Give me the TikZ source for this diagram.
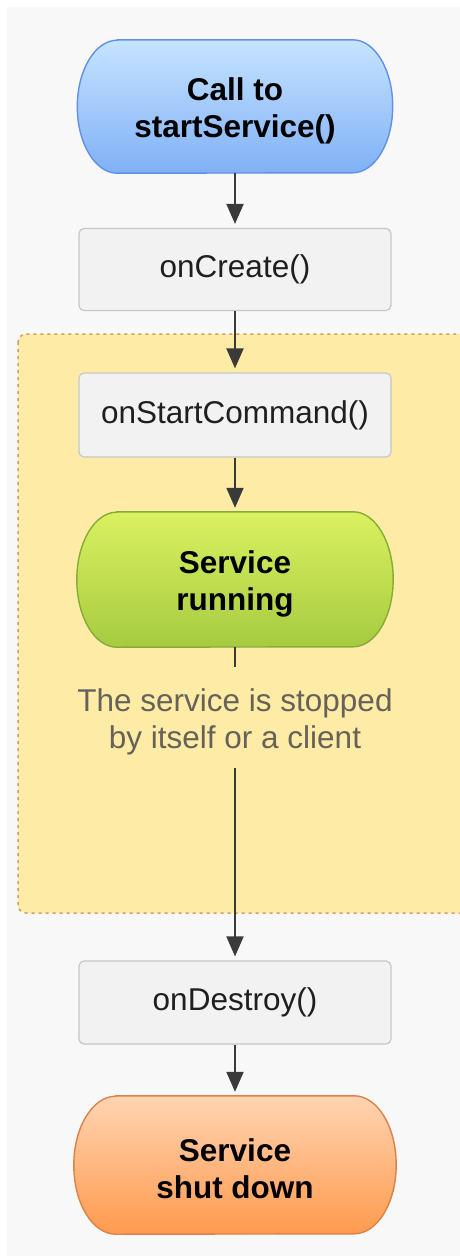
\documentclass[tikz,border=0pt]{standalone}
\usepackage{fontspec}
\setmainfont{Liberation Sans}
\usetikzlibrary{arrows.meta,calc}
\definecolor{pagebg}{HTML}{F8F8F8}
\definecolor{regionfill}{HTML}{FEECA6}
\definecolor{regionline}{HTML}{D49E62}
\definecolor{boxfill}{HTML}{F2F2F2}
\definecolor{boxline}{HTML}{C6C6C6}
\definecolor{arrowc}{HTML}{3A3A3A}
\definecolor{notec}{HTML}{66625A}
\definecolor{bluetop}{HTML}{C6E4FF}
\definecolor{bluebot}{HTML}{80B0F6}
\definecolor{blueline}{HTML}{6090E8}
\definecolor{greentop}{HTML}{DAF160}
\definecolor{greenbot}{HTML}{A6CB40}
\definecolor{greenline}{HTML}{86AC36}
\definecolor{orangetop}{HTML}{FFD4B2}
\definecolor{orangebot}{HTML}{FF9A4E}
\definecolor{orangeline}{HTML}{DA8248}
\pgfdeclarelayer{back}
\pgfdeclarelayer{shapes}
\pgfsetlayers{back,shapes,main}
\newcommand{\drawpill}[4]{%
  \path[#2] ($(#1.north west)+(#3,0)$) -- ($(#1.north east)+(-#3,0)$)
    arc[start angle=90,end angle=-90,x radius=#3,y radius=#4]
    -- ($(#1.south west)+(#3,0)$)
    arc[start angle=270,end angle=90,x radius=#3,y radius=#4] -- cycle;}
\newcommand{\pup}{\rule{0pt}{31pt}}
\tikzset{
  fnt/.style={font=\fontsize{31.5}{37}\selectfont},
  box/.style={fnt, draw=boxline, fill=boxfill, line width=1.2pt, rounded corners=5pt,
    minimum width=312, minimum height=82, text=black!88},
  pillnode/.style={font=\fontsize{31.5}{37}\selectfont\bfseries, align=center, text=black,
    inner sep=0pt},
  bluepill/.style={draw=blueline, line width=1.4pt, top color=bluetop, bottom color=bluebot},
  greenpill/.style={draw=greenline, line width=1.4pt, top color=greentop, bottom color=greenbot},
  orangepill/.style={draw=orangeline, line width=1.4pt, top color=orangetop, bottom color=orangebot},
  arr/.style={draw=arrowc, line width=2pt, -{Triangle[length=20pt,width=17pt]}, shorten >=4pt},
  plainline/.style={draw=arrowc, line width=2pt},
  note/.style={fnt, align=center, text=notec, inner sep=0pt},
  region/.style={draw=regionline, fill=regionfill, line width=1.5pt,
    dash pattern=on 3pt off 4pt, rounded corners=8pt}
}
\begin{document}
\begin{tikzpicture}[x=1pt,y=1pt]
\useasboundingbox (0,0) rectangle (459,-1258);
\clip (0,0) rectangle (459,-1258);
\begin{pgfonlayer}{back}
  \fill[white] (0,0) rectangle (459,-1258);
  \fill[pagebg] (7,-7) rectangle (470,-1256);
  \draw[region] (18,-334) rectangle (490,-913);
\end{pgfonlayer}

\node[pillnode, minimum width=315, minimum height=133] (call) at (235,-106.5) {\pup Call to\\startService()};
\node[box] (create) at (235,-269.5) {onCreate()};
\node[box, minimum height=84] (start) at (235,-415) {onStartCommand()};
\node[pillnode, minimum width=316, minimum height=135] (run) at (235,-579.5) {\pup Service\\running};
\node[note] (stop) at (235,-721.5) {The service is stopped\\by itself or a client};
\node[box, minimum height=83] (destroy) at (235,-1002.5) {onDestroy()};
\node[pillnode, minimum width=322, minimum height=138] (down) at (235,-1165) {\pup Service\\shut down};

\begin{pgfonlayer}{shapes}
  \drawpill{call}{bluepill}{40}{66.5}
  \drawpill{run}{greenpill}{40}{67.5}
  \drawpill{down}{orangepill}{42}{69}
\end{pgfonlayer}

\draw[arr] (call.south) -- (create.north);
\draw[arr] (create.south) -- (start.north);
\draw[arr] (start.south) -- (run.north);
\draw[plainline, shorten >=21pt] (run.south) -- (stop.north);
\draw[arr, shorten <=13pt] (stop.south) -- (destroy.north);
\draw[arr] (destroy.south) -- (down.north);
\end{tikzpicture}
\end{document}
